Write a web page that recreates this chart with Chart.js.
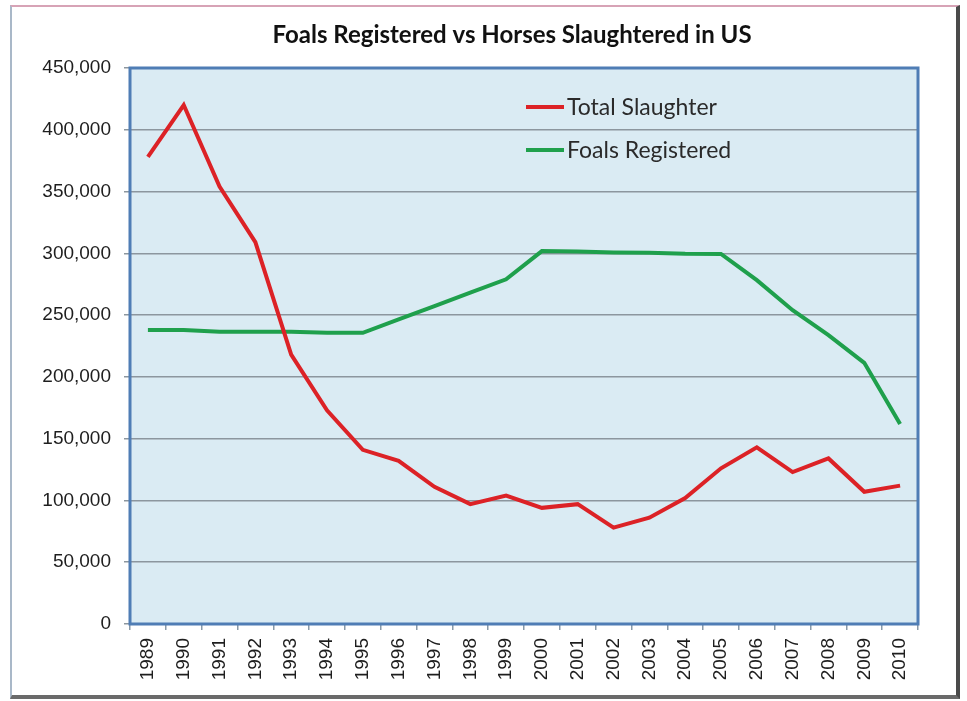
<!DOCTYPE html>
<html>
<head>
<meta charset="utf-8">
<script src="https://cdn.jsdelivr.net/npm/chart.js@4/dist/chart.umd.min.js"></script>
<style>
  body { margin: 0; background: #ffffff; }
  #frame {
    position: absolute; left: 10px; top: 5px; width: 944px; height: 688px;
    border-top: 2px solid #d7a3b6; border-left: 2px solid #a9b8c8;
    border-right: 4px solid #4a4a4a; border-bottom: 4px solid #6a6a6a;
  }
  #wrap { position: absolute; left: 0; top: 0; width: 967px; height: 701px; }
</style>
</head>
<body>
<div id="frame"></div>
<div id="wrap"><canvas id="chart" width="967" height="701"></canvas></div>
<script>
// data
const years = ["1989", "1990", "1991", "1992", "1993", "1994", "1995", "1996", "1997", "1998", "1999",
  "2000", "2001", "2002", "2003", "2004", "2005", "2006", "2007", "2008", "2009", "2010"];
const totalSlaughter = [378000, 420000, 354000, 309000, 218000, 173000, 141000, 132000, 111000, 97000, 104000,
  94000, 97000, 78000, 86000, 102000, 126000, 143000, 123000, 134000, 107000, 112000];
const foalsRegistered = [238000, 238000, 236500, 236500, 236500, 235700, 235700, 246500, 257300, 268200, 279000,
  301800, 301500, 300700, 300500, 299600, 299500, 278300, 254000, 233800, 211400, 161800];
const seriesNames = ["Total Slaughter", "Foals Registered"];
const seriesColors = ["#dc2226", "#1fa04c"];
const chartTitle = "Foals Registered vs Horses Slaughtered in US";

// plot background + blue frame round the plot area
const plotArea = {
  id: "plotArea",
  beforeDraw(chart) {
    const { ctx, chartArea: a } = chart;
    ctx.save();
    ctx.fillStyle = "#daebf3";
    ctx.fillRect(a.left, a.top, a.width, a.height);
    ctx.restore();
  },
  beforeDatasetsDraw(chart) {
    const { ctx, chartArea: a } = chart;
    ctx.save();
    ctx.strokeStyle = "#4f7db5";
    ctx.lineWidth = 3;
    ctx.strokeRect(a.left, a.top, a.width, a.height);
    ctx.restore();
  }
};

// title (a bit left of the plot centre, like the original) and legend inside the plot
const titleAndLegend = {
  id: "titleAndLegend",
  afterDatasetsDraw(chart) {
    const { ctx, chartArea: a } = chart;
    ctx.save();
    ctx.fillStyle = "#111111";
    ctx.font = "bold 24px Lato";
    ctx.textAlign = "center";
    ctx.textBaseline = "middle";
    ctx.fillText(chartTitle, a.left + 382, a.top - 33);

    ctx.font = "23px Lato";
    ctx.textAlign = "left";
    chart.data.datasets.forEach((ds, i) => {
      const y = a.top + 39 + i * 43;
      const x = a.left + 396;
      ctx.strokeStyle = ds.borderColor;
      ctx.lineWidth = 4;
      ctx.beginPath();
      ctx.moveTo(x, y);
      ctx.lineTo(x + 38, y);
      ctx.stroke();
      ctx.fillStyle = "#2a2a2a";
      ctx.fillText(ds.label, x + 41, y + 1);
    });
    ctx.restore();
  }
};

new Chart("chart", {
  type: "line",
  data: {
    labels: years,
    datasets: [{
      label: seriesNames[0],
      data: totalSlaughter,
      borderColor: seriesColors[0],
      backgroundColor: seriesColors[0],
      borderWidth: 4,
      pointRadius: 0,
      tension: 0
    }, {
      label: seriesNames[1],
      data: foalsRegistered,
      borderColor: seriesColors[1],
      backgroundColor: seriesColors[1],
      borderWidth: 4,
      pointRadius: 0,
      tension: 0
    }]
  },
  options: {
    responsive: false,
    animation: false,
    layout: { padding: { left: 0, right: 49, top: 68, bottom: 0 } },
    plugins: {
      legend: { display: false },
      tooltip: { enabled: false },
      title: { display: false }
    },
    scales: {
      x: {
        offset: true,
        grid: { offset: true, drawOnChartArea: false, drawTicks: true, tickLength: 6, color: "#8a9aa8", lineWidth: 1.5 },
        border: { display: false },
        ticks: {
          minRotation: 90, maxRotation: 90, autoSkip: false, padding: 8,
          color: "#1e1e1e", font: { family: "Liberation Sans", size: 19 }
        },
        afterFit(scale) { scale.height = 77; }
      },
      y: {
        min: 0,
        max: 450000,
        grid: { color: "#8c969e", lineWidth: 1.5, tickLength: 6, drawTicks: true },
        border: { display: false },
        ticks: {
          stepSize: 50000, padding: 13,
          color: "#1e1e1e", font: { family: "Liberation Sans", size: 19 },
          callback: v => v.toLocaleString("en-US")
        },
        afterFit(scale) { scale.width = 130; }
      }
    }
  },
  plugins: [plotArea, titleAndLegend]
});
</script>
</body>
</html>
